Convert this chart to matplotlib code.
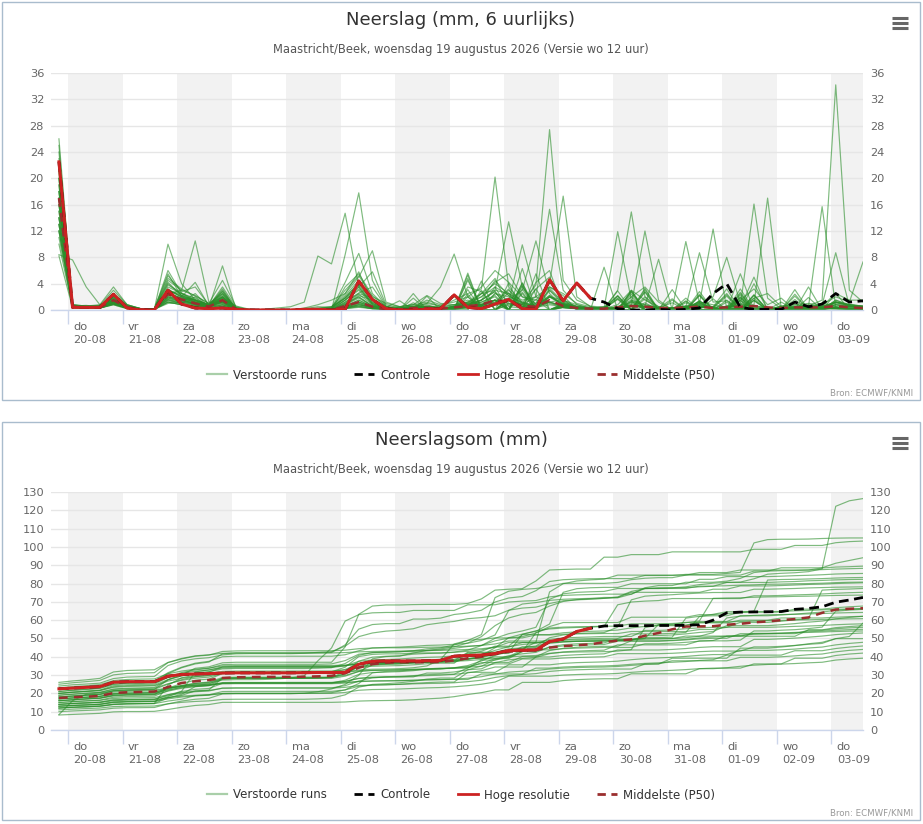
import numpy as np
import pandas as pd
import matplotlib
matplotlib.use("Agg")
import matplotlib.pyplot as plt
import matplotlib.dates as mdates
import matplotlib.transforms as mtransforms
from matplotlib.lines import Line2D
from matplotlib.patches import Rectangle

# ---------------- data ----------------
start_time = "2026-08-19 20:00"     # first 6-hourly value (local time)
n_steps = 60
day_first = "2026-08-20"
day_last = "2026-09-03"
dutch_days = ["ma", "di", "wo", "do", "vr", "za", "zo"]

title_top = "Neerslag (mm, 6 uurlijks)"
title_bottom = "Neerslagsom (mm)"
subtitle = "Maastricht/Beek, woensdag 19 augustus 2026 (Versie wo 12 uur)"
source = "Bron: ECMWF/KNMI"
legend_labels = ["Verstoorde runs", "Controle", "Hoge resolutie", "Middelste (P50)"]

# ensemble members, 6-hourly precipitation (mm)
m01 = [16, .5,.6,.4,1.5, .3,0,.1,3.5, 2.5,1.8,.6,3.0, .2,0,0,0, 0,0,.3,.5, 2.5,5.8,1.2,.3, 0,.4,1.5,.8, 1.2,2.0,3.5,6.0, 4.2,2.0,1.0,3.5, 2.5,1.0,.5,.2, .8,3.0,1.5,.5, 0,.5,1.2,.8, .4,.2,1.8,2.5, .5,.3,.6,1.5, 34.2,3.0,1.2]
m02 = [21, .8,.5,.6,2.2, .6,.1,.2,4.8, 3.2,2.1,1.0,4.5, .5,0,0,0, 0,0,0,.2, 4.2,8.6,2.5,.5, 0,2.5,0,.5, 2.0,.8,1.5,4.5, 2.2,.8,3.2,5.0, 1.0,.3,.2,.1, 0,0,1.7,0, 0,.6,0,0, .5,.6,16.1,1.8, .2,0,.1,.3, .2,.1,0]
m03 = [18, .6,.5,.4,2.0, .4,.1,.2,5.2, 2.8,3.5,.8,2.2, .3,0,0,0, 0,0,0,0, 8.4,17.8,4.5,.6, 0,.2,.1,0, 0,.5,2.5,4.8, .5,.3,4.2,6.0, .3,.2,0,6.5, 0,1.4,0,0, 1.5,0,0,0, 0,0,1.4,0, 0,2.1,0,0, 1.5,.6,.3]
m04 = [24, .7,.4,.5,2.5, .8,.2,.1,6.0, 2.5,1.2,.6,1.5, .6,.1,0,0, 0,.2,.5,.4, 3.0,5.2,2.0,1.0, .5,.8,2.2,1.0, .8,1.5,.6,1.0, 3.0,1.2,.5,2.0, 1.5,.5,.3,.5, .3,2.0,3.5,1.2, 0,1.8,0,0, .6,1.5,3.2,.8, 1.8,0,0,0, 2.5,1.5,1.5]
m05 = [14, .5,.4,.3,1.2, .2,0,.1,2.5, 1.8,1.2,.5,2.8, .1,0,0,0, 0,0,0,.1, 1.5,3.2,1.0,.2, .3,.5,.8,.2, .6,1.2,2.5,3.0, 2.5,1.0,3.8,27.4, 4.5,1.5,.6,.4, 2.2,0,0,0, 0,0,1.4,0, 0,1.4,0,0, 0,0,0,1.1, .5,.2,.3]
m06 = [19, .6,.5,.5,1.8, .5,.1,.2,4.2, 2.2,1.5,.8,1.5, .2,0,0,0, 0,0,.2,.3, 2.2,4.5,1.5,.3, .2,.5,1.0,.6, 1.5,2.5,3.2,20.2, 3.5,1.0,.5,1.2, 1.6,0,0,0, .5,1.5,.8,.3, 0,1.4,0,0, 0,0,2.2,0, .2,.1,.3,.2, .3,.2,.2]
m07 = [12, .4,.3,.4,1.0, .3,.1,0,3.0, 2.0,4.2,.6,3.5, .4,0,0,0, 0,0,0,0, 1.2,2.6,3.5,.5, .2,.6,.4,.2, .5,.8,2.0,4.2, 5.5,2.0,1.5,4.0, 17.3,2.0,.5,.2, 0,2.0,0,0, 0,0,2.4,0, 1.5,0,0,0, .2,.3,.2,.3, .4,.2,.1]
m08 = [20, .7,.5,.6,2.4, .5,.2,.1,3.8, 2.6,1.4,.9,2.0, .2,0,0,0, 0,0,0,.2, 1.8,3.5,.8,.2, .3,.4,.2,.5, .8,1.0,.6,2.5, 1.5,.8,2.0,3.5, 2.2,0,0,0, 0,2.9,0,0, 0,0,1.4,0, .6,.5,.8,17.0, .3,.1,.2,.2, .3,.2,.1]
m09 = [17, .5,.4,.5,1.5, .3,.1,.2,2.2, 1.5,.8,.5,1.8, .2,0,.1,.3, .5,1.2,8.2,7.0, 14.7,3.5,1.0,.2, 0,1.1,0,0, 0,3.1,0,0, 1.5,.5,.3,2.0, .8,.3,.2,.2, 0,0,3.1,0, .3,.2,.4,.3, 2.1,0,0,0, .3,.2,.4,.2, .3,.2,.1]
m10 = [22, .6,.7,.5,2.0, .7,.2,.1,4.5, 3.0,2.2,1.0,2.5, .3,0,0,0, 0,0,0,0, .8,2.2,1.5,.3, .2,.4,.5,.2, .4,.6,1.5,3.0, 13.4,3.5,.8,1.2, .6,.3,.2,.5, 0,2.8,0,0, 0,0,0,1.7, 0,1.8,0,0, .2,.3,.3,.2, .3,.2,.2]
m11 = [15, .5,.4,.4,1.6, .4,.1,.1,3.0, 2.0,1.0,.6,3.2, .1,0,0,0, 0,0,.1,.2, 2.0,4.0,1.2,.4, 1.4,0,0,0, 0,4.8,0,0, 1.8,.6,1.0,4.5, 1.5,.8,.3,.2, 3.0,14.9,2.0,.5, .3,.5,.4,.3, 0,0,1.8,0, .2,.2,.3,.2, .2,.1,.1]
m12 = [18, .5,.6,.5,1.8, .5,.2,.1,2.8, 2.5,1.6,.8,1.5, .2,0,0,0, 0,0,0,0, 1.5,3.0,.8,.2, .2,.3,.6,.4, 0,2.4,0,2.5, 2.0,1.2,.6,2.2, .8,.3,.2,.3, 0,0,3.3,0, .3,.6,.5,.3, 0,2.7,0,0, .6,.8,.5,15.7, .4,.2,.3]
m13 = [13, .4,.3,.4,1.2, .3,0,.1,2.0, 1.2,2.5,.4,6.7, .1,0,0,0, 0,0,0,0, 3.5,5.5,2.2,.5, 0,1.8,0,0, .5,1.0,2.5,4.0, 2.5,1.5,2.0,15.3, 3.0,.8,.3,.2, 1.6,0,0,0, 0,0,1.3,0, .2,.3,.2,.3, .1,.2,.1,.2, .3,.2,.1]
m14 = [16, .5,.5,.4,1.5, .4,.1,.2,2.6, 1.8,1.5,.7,2.5, .2,0,0,0, 0,0,0,0, 1.0,2.0,.6,.2, .2,.3,.2,.4, 0,0,4.4,0, 1.5,3.0,10.5,2.5, .5,.2,.1,.2, 0,1.3,0,0, .2,.4,1.0,12.3, .2,.1,.3,.2, .1,.2,.1,.2, .2,.1,.1]
m15 = [20, .6,.5,.5,2.0, .6,.1,.1,3.2, 2.0,1.2,.8,2.8, .2,0,0,0, 0,0,0,0, .5,1.2,.6,.2, .1,.2,.4,.2, .3,.5,.8,1.5, 1.2,9.9,2.0,1.0, .5,.3,.2,.3, 11.9,1.5,.5,.3, 1.1,0,0,0, 0,0,1.5,0, .2,.3,.2,.3, .4,.3,.2]
m16 = [25, .8,.6,.7,3.0, .8,.2,.2,5.5, 2.0,1.5,.6,2.0, .3,.1,0,0, 0,0,0,0, .3,.8,.4,.1, 0,.1,.2,.1, .2,.3,.4,.8, 1.6,0,0,0, .4,.2,.1,.1, 0,0,1.1,0, .2,10.4,1.0,.3, 0,2.0,0,0, 0,1.6,0,0, .8,.5,.4]
m17 = [17, .5,.4,.5,1.4, .4,.1,.1,2.4, 1.6,1.0,.6,2.0, .2,0,0,0, 0,0,.2,.5, 1.8,3.8,1.0,.3, .3,.5,.4,.2, .5,.8,1.2,2.2, 0,3.6,0,3.0, .8,.4,.2,.2, 0,2.4,0,0, .3,.5,8.7,1.2, 1.4,0,0,0, .2,.3,.2,.3, .3,.2,.1]
m18 = [14, .5,.3,.4,1.2, .3,.1,.1,1.8, 1.4,.8,.4,1.6, .1,0,0,0, 0,0,0,0, 1.2,2.5,1.8,.5, 0,0,2.1,0, .6,1.2,2.0,3.5, 2.2,1.0,.8,3.0, 1.2,.5,.2,.3, 2.1,0,0,0, .2,.5,.8,2.0, 8.0,1.0,.4,.3, .2,.1,.2,.2, .3,.2,.1]
m19 = [21, .6,.5,.6,2.2, .5,.1,.2,3.0, 2.2,1.2,.6,1.8, .2,0,0,0, 0,0,0,0, .4,1.0,.3,.1, .1,.2,.2,.1, 0,2.0,0,0, .8,.5,.3,1.2, .5,.2,.1,.1, .3,.8,12.0,1.5, 0,0,1.1,0, 0,1.5,0,0, 1.2,0,0,0, .4,.3,.2]
m20 = [10, .4,.3,.3,.9, .3,0,.1,2.0, 1.5,1.0,.5,2.4, .1,0,0,0, 0,.3,.8,1.5, 2.5,5.0,9.0,1.2, .5,.8,.4,.2, .4,.6,.8,1.5, 0,2.5,0,0, .4,.2,.1,.1, .3,.5,.6,7.7, 0,1.1,0,0, .2,.3,.2,.3, .1,.2,.1,.2, .2,.1,.1]
m21 = [16, .5,.4,.4,1.3, .4,.1,.1,2.0, 1.6,.9,.5,1.4, .1,0,0,0, 0,0,0,0, .8,1.8,.6,.2, .2,.4,.5,.3, 0,3.5,2.8,0, 1.5,.8,.6,2.0, 1.0,.4,.3,.2, 2.9,0,0,0, 0,0,2.2,0, 0,.4,5.0,0, .4,.3,.6,.8, 8.7,.6,.4]
m22 = [19, .5,.5,.5,1.6, .5,.1,.1,2.5, 1.8,1.2,.6,2.0, .2,0,0,0, 0,0,0,0, .5,1.2,.4,.1, .2,.5,1.0,3.5, 8.5,2.0,.5,.8, 0,0,1.6,0, .4,.2,.1,.1, 0,1.1,0,0, 0,0,1.1,0, 1.2,0,0,0, .2,.3,.2,.3, .4,.3,.2]
m23 = [23, .7,.5,.6,2.2, .6,.2,.1,2.8, 1.5,1.0,.6,1.2, .2,0,0,0, 0,0,0,0, .3,.6,.2,.1, .1,.2,.3,.2, .3,.4,.6,1.5, 0,3.8,0,0, .6,.3,.2,.2, 0,0,2.0,0, .3,.5,.6,.4, 2.3,0,0,0, 0,0,3.5,0, 1.2,.6,.5]
m24 = [13, .4,.3,.3,1.0, .3,.1,.1,1.5, 1.0,.6,.4,1.0, .1,0,0,0, 0,0,.1,.2, 1.5,3.5,5.8,.8, .3,.5,.4,.2, .5,.8,1.5,2.8, 0,4.1,0,2.0, .8,.4,.2,.2, 1.8,0,0,0, .3,.4,.6,.3, 0,2.5,0,0, 0,0,1.9,0, .8,.5,.3]
m25 = [26, .8,.6,.8,3.5, .8,.2,.2,4.0, 2.2,1.4,.6,.8, .2,0,0,0, 0,0,0,0, .2,.4,.2,.1, .1,.1,.2,.1, .2,.3,.4,.8, 2.6,0,0,0, .4,.2,.1,.1, .3,.5,.4,.2, 0,1.3,0,0, 0,0,1.5,0, .2,.3,.4,.3, .5,.3,.2]
m26 = [11, .4,.3,.3,.8, .2,0,.1,1.2, .8,.5,.3,.8, .1,0,0,0, 0,0,.2,.4, 1.8,4.2,1.5,.4, .5,.8,1.2,.6, 0,4.5,.5,3.5, 0,3.2,0,3.3, 1.2,.6,.3,.2, 0,3.0,0,0, .3,.5,.8,.5, .4,.5,.6,.3, .2,.3,.2,.2, .3,.2,.1]
m27 = [17, .5,.4,.4,1.2, .4,.1,.1,1.8, 1.2,.8,.5,1.5, .1,0,0,0, 0,0,0,0, .6,1.5,.5,.2, .2,.4,.3,.2, .5,.8,1.2,2.0, 0,0,5.5,0, .8,.4,.3,.2, 2.1,0,0,0, .3,.5,.6,.4, 0,0,4.0,0, .3,.4,.5,.6, .8,.5,.4]
m28 = [15, .5,.4,.3,1.0, .3,.1,.1,1.6, 1.2,.7,.4,1.2, .1,0,0,0, 0,0,0,0, .4,1.0,.3,.1, .2,.3,.2,.1, .3,.6,.8,1.5, 1.0,.6,.5,1.2, .6,.3,.2,.2, 0,0,2.8,0, 3.1,0,0,0, 0,5.5,0,0, .6,.8,1.0,.8, 2.0,1.2,7.3]
m29 = [20, .6,.4,.5,1.8, .5,.1,.2,2.6, 1.6,.9,.5,1.3, .2,0,0,0, 0,0,0,0, .3,.8,.3,.1, .1,.2,.3,.2, .3,.5,.6,1.2, 0,2.7,0,0, .5,.3,.2,.2, 1.7,0,0,0, .2,.4,.5,.3, 0,0,2.3,0, .3,.5,.6,.5, 2.6,0,0]
m30 = [12, .4,.3,.3,.9, .3,.1,.1,1.4, 1.0,2.0,.4,1.8, .1,0,0,0, 0,0,0,0, .8,2.0,.6,.2, .3,.5,.4,.3, 0,5.3,0,0, 4.1,0,0,0, .8,.4,.2,.2, .4,.8,.6,.4, .3,.5,.6,.4, 0,2.3,0,0, .3,.4,.6,.5, 1.2,.8,.6]
m31 = [18, .5,.4,.4,1.4, .4,.1,.1,1.6, 1.0,.6,.3,.8, .1,0,0,0, 0,0,0,0, .3,.6,.2,.1, .1,.2,.2,.1, .3,.5,.8,1.5, 0,0,3.2,0, .6,.3,.2,.1, .3,.6,.5,.3, .3,.4,.6,.4, 2.5,0,0,0, 0,2.4,0,0, 1.2,.8,.6]
m32 = [8.2, .3,.3,.3,.8, .2,0,.1,1.0, 1.2,1.0,.5,1.2, 0,0,0,0, 0,0,0,0, .2,.5,.2,.1, .1,.3,.5,.4, .8,1.2,1.0,1.5, 0,4.1,0,0, 1.0,.5,.3,.2, 0,2.7,0,0, 0,0,2.8,0, .5,.8,.6,.4, .2,.3,.4,.3, 1.2,.6,.4]
m33 = [8.4, 7.6,3.5,.8,1.0, .3,.1,.1,1.2, .8,.5,.3,.6, .1,0,0,0, 0,0,0,0, .3,.8,.3,.1, .1,.2,.3,.2, 0,0,3.0,0, 1.0,.5,.4,.8, .5,.3,.2,.1, .3,.6,.5,.3, 1.7,0,0,0, 0,1.9,0,0, .3,.5,.6,.4, 1.2,.8,.5]
m34 = [14, .4,.3,.3,1.0, .3,.1,.1,1.2, .8,.5,.3,.6, .1,0,0,0, 0,0,0,0, .5,1.2,.4,.1, .2,.3,.3,.2, .4,.6,.8,1.2, 3.2,0,0,0, .6,.3,.2,.1, .3,.6,.5,.3, .3,.4,.5,.3, 0,0,2.3,0, 0,3.1,0,0, 1.5,.8,.5]
m35 = [12, .4,.3,.3,1.0, .3,.1,.1,10.0, 4.0,1.5,.8,1.2, .2,0,0,0, 0,0,0,0, .6,1.5,.5,.2, .2,.4,.6,.3, 0,5.6,0,0, 1.6,.8,.6,2.2, .8,.4,.2,.2, 0,0,2.7,0, .3,.6,.8,.5, 3.2,0,0,0, .5,.6,.8,.6, 1.2,.8,.6]
m36 = [13, .4,.3,.3,1.2, .3,.1,.1,2.5, 3.0,10.5,1.2,1.0, .2,0,0,0, 0,0,0,0, 1.0,2.4,.8,.2, .3,.5,.4,.2, .6,1.0,1.5,2.8, 0,6.3,0,0, 1.0,.5,.3,.2, .5,1.2,.8,.4, 0,0,2.2,0, 0,3.2,0,0, .4,.5,.6,.5, 1.0,.6,.4]

# high resolution run (first 40 steps), 6-hourly mm
hres = [22.5, .4,.4,.4,2.4, .3,0,0,3.0, .9,.3,.2,.3, .1,0,0,0, 0,.1,.1,0, .1,4.4,1.6,.2, 0,0,.1,.2, 2.3,.4,.2,.9, 1.6,.2,.1,4.6, 1.4,4.1,1.8]
# control run, 6-hourly mm
control = [22.5, .4,.4,.4,2.4, .3,0,0,3.0, .9,.3,.2,.3, .1,0,0,0, 0,.1,.1,0, .1,4.4,1.6,.2, 0,0,.1,.2, 2.3,.4,.2,.9, 1.6,.2,.1,4.6, 1.4,4.1,1.8,
           1.2,.2,0,0, .1,0,.1,.3, 2.5,4.0,.4,.1, .1,.1,1.2,.5, .9,2.5,1.2,1.4]
# median of 6-hourly values
p50_6h = [17, .5,.4,.4,1.5, .4,.1,.1,2.4, 1.6,1.0,.5,1.5, .1,0,0,0, 0,0,0,0, .6,1.2,.5,.1, .1,.3,.3,.2, .4,.6,.8,1.5, 1.2,.6,.5,1.5, .6,.3,.2,.2, .4,.6,.5,.3, .3,.4,.5,.3, .4,.5,.6,.4, .3,.4,.4,.4, .6,.4,.3]
# median of accumulated values
p50_sum = [17.5, 17.9, 18.2, 18.6, 20.2, 20.6, 20.8, 21.0, 23.5, 25.7, 26.6, 27.3, 28.4, 28.8, 28.9,
           29.0, 29.0, 29.0, 29.1, 29.3, 29.6, 31.0, 34.0, 36.0, 36.8, 37.0, 37.0, 37.0, 37.2, 38.0,
           39.2, 40.0, 41.5, 42.8, 43.3, 43.7, 45.0, 45.8, 46.3, 46.8, 48.0, 48.8, 49.5, 51.5, 53.0,
           55.0, 56.5, 56.6, 56.7, 57.5, 58.0, 58.8, 59.3, 60.0, 60.6, 61.5, 64.0, 65.8, 66.2, 66.5]

members = [m01, m02, m03, m04, m05, m06, m07, m08, m09, m10, m11, m12, m13, m14, m15, m16, m17, m18,
           m19, m20, m21, m22, m23, m24, m25, m26, m27, m28, m29, m30, m31, m32, m33, m34, m35, m36]
for k, m in enumerate(members):
    assert len(m) == n_steps, (k + 1, len(m))

# ---------------- figure ----------------
W, H = 923, 824
fig = plt.figure(figsize=(W / 100, H / 100), dpi=100)
fig.patch.set_facecolor("white")

times = mdates.date2num(pd.date_range(start_time, periods=n_steps, freq="6h"))
t_hres = times[:len(hres)]
days = pd.date_range(day_first, day_last, freq="D")
day_num = mdates.date2num(days)
day_labels = [f"{dutch_days[d.weekday()]}\n{d:%d-%m}" for d in days]
x_left = mdates.date2num(pd.Timestamp("2026-08-19 16:30"))
x_right = times[-1]

GREEN = "#2A8E2A"
RED = "#CC2222"
P50C = "#9A2E2E"
GRID = "#E6E6E6"
AXC = "#CCD6EB"
TXT = "#666666"


def px_rect(x0, y0, x1, y1):
    return [x0 / W, 1 - y1 / H, (x1 - x0) / W, (y1 - y0) / H]


def style_axes(ax, ymax, step):
    ax.set_xlim(x_left, x_right)
    ax.set_ylim(0, ymax)
    ax.set_yticks(np.arange(0, ymax + 0.1, step))
    for s in ["top", "left", "right"]:
        ax.spines[s].set_visible(False)
    ax.spines["bottom"].set_color(AXC)
    ax.spines["bottom"].set_linewidth(1)
    ax.grid(axis="y", color=GRID, lw=1)
    ax.set_axisbelow(True)
    ax.tick_params(axis="y", length=0, labelleft=True, labelright=True,
                   labelsize=8.2, labelcolor=TXT, pad=5)
    ax.set_xticks(day_num)
    ax.set_xticklabels(day_labels, ha="left", linespacing=1.35)
    ax.tick_params(axis="x", length=10, color=AXC, width=1, labelsize=8.2,
                   labelcolor=TXT, pad=-1)
    off = mtransforms.ScaledTranslation(4 / 72, 0, fig.dpi_scale_trans)
    for lab in ax.get_xticklabels():
        lab.set_transform(lab.get_transform() + off)
    for i, d in enumerate(day_num):
        if i % 2 == 0:
            ax.axvspan(d, d + 1, color="#F2F2F2", lw=0, zorder=0)


def header(y_title, y_sub, y_menu, text):
    fig.text(461 / W, 1 - y_title / H, text, ha="center", va="center",
             fontsize=13, color="#333333")
    fig.text(461 / W, 1 - y_sub / H, subtitle, ha="center", va="center",
             fontsize=8.3, color="#555555")
    for dy in (-5, 0, 5):
        fig.add_artist(Line2D([892 / W, 908 / W], [1 - (y_menu + dy) / H] * 2,
                              transform=fig.transFigure, color="#666666", lw=2.2,
                              solid_capstyle="butt"))


def legend_and_source(y_leg, y_src):
    handles = [Line2D([], [], color="#A9CFA9", lw=1.6),
               Line2D([], [], color="black", lw=2, dashes=(3, 2)),
               Line2D([], [], color=RED, lw=2),
               Line2D([], [], color=P50C, lw=2, dashes=(3, 2))]
    fig.legend(handles, legend_labels, loc="center", bbox_to_anchor=(461 / W, 1 - y_leg / H),
               ncol=4, frameon=False, fontsize=8.5, handlelength=1.7, handletextpad=0.5,
               columnspacing=2.3, labelcolor="#333333")
    fig.text(913 / W, 1 - y_src / H, source, ha="right", va="center", fontsize=6.2,
             color="#999999")


# panel boxes
for (y0, y1) in [(2, 400), (422, 820)]:
    fig.add_artist(Rectangle((2 / W, 1 - y1 / H), 918 / W, (y1 - y0) / H,
                             transform=fig.transFigure, fill=False, ec="#A9BCCD", lw=1))

# ---- top: 6-hourly ----
ax1 = fig.add_axes(px_rect(51, 73, 863, 310))
style_axes(ax1, 36, 4)
for m in members:
    ax1.plot(times, m, color=GREEN, lw=0.85, alpha=0.6, zorder=2)
ax1.plot(times, p50_6h, color=P50C, lw=1.8, dashes=(3.5, 2.5), zorder=3)
ax1.plot(times, control, color="black", lw=2, dashes=(3.5, 2), zorder=4)
ax1.plot(t_hres, hres, color=RED, lw=2.2, zorder=5)
header(20, 49, 23, title_top)
legend_and_source(375, 393)

# ---- bottom: accumulated ----
ax2 = fig.add_axes(px_rect(51, 492, 863, 730))
style_axes(ax2, 130, 10)
for m in members:
    ax2.plot(times, np.cumsum(m), color=GREEN, lw=0.85, alpha=0.6, zorder=2)
ax2.plot(times, p50_sum, color=P50C, lw=1.8, dashes=(3.5, 2.5), zorder=3)
ax2.plot(times, np.cumsum(control), color="black", lw=2, dashes=(3.5, 2), zorder=4)
ax2.plot(t_hres, np.cumsum(hres), color=RED, lw=2.2, zorder=5)
header(440, 469, 443, title_bottom)
legend_and_source(795, 813)

fig.savefig("out.png", dpi=100, facecolor="white")
